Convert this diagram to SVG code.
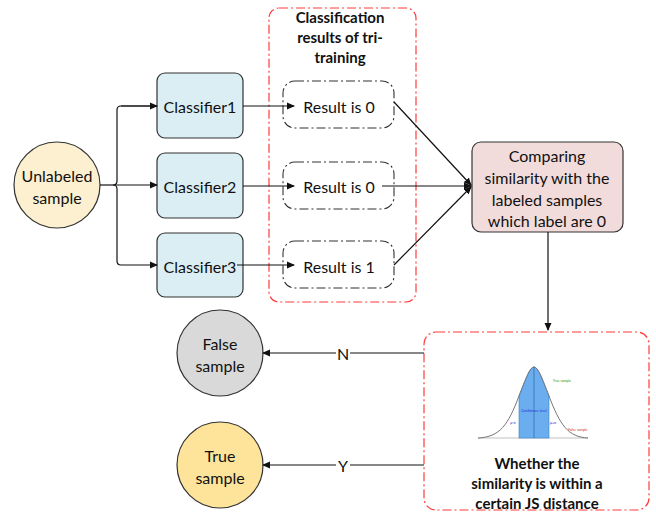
<svg xmlns="http://www.w3.org/2000/svg" width="656" height="512" viewBox="0 0 656 512">
<style>
text{font-family:Lato,"Liberation Sans",sans-serif;fill:#111;text-anchor:middle;dominant-baseline:central}
.n{font-size:16px}
.b{font-size:15px;font-weight:bold}
.cls{fill:#dbeef3;stroke:#333;stroke-width:1.2}
.res{fill:none;stroke:#333;stroke-width:1.1;stroke-dasharray:9 3 2 3}
.red{fill:none;stroke:#ff3b3b;stroke-width:1.2;stroke-dasharray:9 3 2 3}
.c{fill:none;stroke:#111;stroke-width:1.2}
.tiny{font-size:3.5px}
</style>
<defs>
<marker id="ah" markerWidth="8" markerHeight="8" refX="7" refY="4" orient="auto" markerUnits="userSpaceOnUse">
<path d="M0,0.5 L8,4 L0,7.5 Z" fill="#111"/>
</marker>
</defs>

<g id="group-box">
<rect class="red" x="269" y="8" width="147" height="294" rx="10"/>
<text class="b" x="340" y="17">Classification</text>
<text class="b" x="340" y="37">results of tri-</text>
<text class="b" x="340" y="57">training</text>
</g>

<g id="unlabeled">
<circle cx="57" cy="185" r="43" fill="#fdf0d0" stroke="#333" stroke-width="1.2"/>
<text class="n" x="57" y="175">Unlabeled</text>
<text class="n" x="57" y="197">sample</text>
</g>

<g id="classifier1">
<rect class="cls" x="157" y="73" width="86" height="65" rx="8"/>
<text class="n" x="200" y="106">Classifier1</text>
</g>
<g id="classifier2">
<rect class="cls" x="157" y="153" width="86" height="65" rx="8"/>
<text class="n" x="200" y="186">Classifier2</text>
</g>
<g id="classifier3">
<rect class="cls" x="157" y="233" width="86" height="64" rx="8"/>
<text class="n" x="200" y="266">Classifier3</text>
</g>

<g id="result1">
<rect class="res" x="283" y="81" width="111" height="47" rx="12"/>
<text class="n" x="339" y="106">Result is 0</text>
</g>
<g id="result2">
<rect class="res" x="283" y="162" width="111" height="47" rx="12"/>
<text class="n" x="339" y="186">Result is 0</text>
</g>
<g id="result3">
<rect class="res" x="283" y="241" width="111" height="47" rx="12"/>
<text class="n" x="339" y="266">Result is 1</text>
</g>

<g id="comparing">
<rect x="472" y="142" width="151" height="90" rx="9" fill="#f2dcdb" stroke="#333" stroke-width="1.2"/>
<text class="n" x="547" y="155">Comparing</text>
<text class="n" x="547" y="177">similarity with the</text>
<text class="n" x="547" y="199">labeled samples</text>
<text class="n" x="547" y="220">which label are 0</text>
</g>

<g id="judge">
<rect class="red" x="424" y="332" width="225" height="178" rx="12"/>
<g id="bell">
<line x1="478" y1="438" x2="588" y2="438" stroke="#999" stroke-width="0.6"/>
<path d="M519,438 L519,396 C526,378 530,367 534,367 C538,367 542,378 549,396 L549,438 Z" fill="#6aaef0" stroke="#3b7fc4" stroke-width="0.6"/>
<path d="M478,438 C500,437 508,425 519,396 C526,378 530,367 534,367 C538,367 542,378 549,396 C560,425 568,437 588,438" fill="none" stroke="#777" stroke-width="1"/>
<line x1="534" y1="367" x2="534" y2="438" stroke="#2a5a8a" stroke-width="0.6"/>
<text class="tiny" x="562" y="381" style="fill:#2a9a2a">True sample</text>
<text class="tiny" x="534" y="411" style="fill:#2a2ad0">Confidence level</text>
<text class="tiny" x="513" y="423" style="fill:#2a2ad0">μ-σ</text>
<text class="tiny" x="553" y="423" style="fill:#2a2ad0">μ+σ</text>
<text class="tiny" x="578" y="430" style="fill:#d03030">False sample</text>
</g>
<text class="b" x="537" y="463">Whether the</text>
<text class="b" x="537" y="483">similarity is within a</text>
<text class="b" x="537" y="503">certain JS distance</text>
</g>

<g id="false-sample">
<circle cx="220" cy="353" r="43" fill="#d9d9d9" stroke="#333" stroke-width="1.2"/>
<text class="n" x="220" y="343">False</text>
<text class="n" x="220" y="365">sample</text>
</g>
<g id="true-sample">
<circle cx="220" cy="465" r="43" fill="#fde49a" stroke="#333" stroke-width="1.2"/>
<text class="n" x="220" y="455">True</text>
<text class="n" x="220" y="477">sample</text>
</g>

<g id="connectors">
<path class="c" d="M100,185 H113"/>
<path class="c" d="M157,106 H121 Q117,106 117,110 V181 Q117,185 113,185 Q117,185 117,189 V261 Q117,265 121,265 H157" marker-end="url(#ah)"/>
<path class="c" d="M121,106 H157" marker-end="url(#ah)"/>
<path class="c" d="M113,185 H157" marker-end="url(#ah)"/>
<path class="c" d="M243,106 H294" marker-end="url(#ah)"/>
<path class="c" d="M243,186 H294" marker-end="url(#ah)"/>
<path class="c" d="M237,265 H294" marker-end="url(#ah)"/>
<path class="c" d="M394,102 L471,185" marker-end="url(#ah)"/>
<path class="c" d="M382,186 L471,186" marker-end="url(#ah)"/>
<path class="c" d="M394,265 L471,187" marker-end="url(#ah)"/>
<path class="c" d="M548,232 V330" marker-end="url(#ah)"/>
<path class="c" d="M424,353 H263" marker-end="url(#ah)"/>
<path class="c" d="M424,465 H263" marker-end="url(#ah)"/>
<rect x="336" y="345" width="14" height="16" fill="#fff"/>
<text class="n" x="343" y="353">N</text>
<rect x="336" y="457" width="14" height="16" fill="#fff"/>
<text class="n" x="343" y="465">Y</text>
</g>
</svg>
